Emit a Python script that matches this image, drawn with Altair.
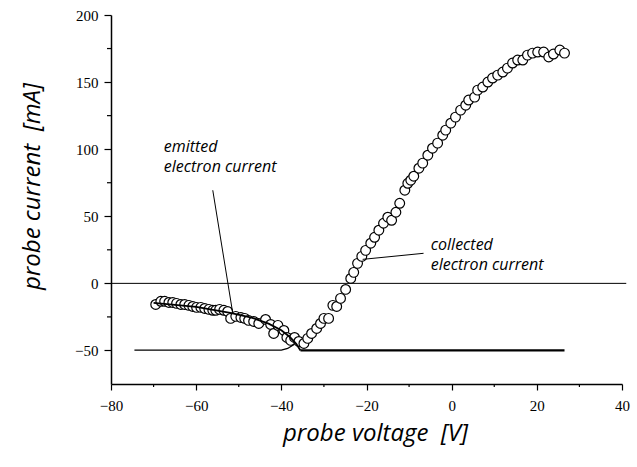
import altair as alt
import pandas as pd

# measured probe characteristic
voltage = [-69.5, -68.3, -67.4, -66.4, -65.5, -64.6, -63.6, -62.7, -61.7, -60.8,
           -59.9, -58.9, -58.0, -57.0, -56.1, -55.4, -54.5, -53.5, -52.6, -51.9,
           -50.7, -49.5, -48.6, -47.7, -46.5, -45.3, -43.7, -42.5, -41.8, -40.8,
           -39.4, -38.7, -37.8, -36.9, -35.9, -34.7, -33.8, -32.9, -31.7, -30.8,
           -30.0, -28.9, -27.9, -27.0, -26.1, -24.9, -23.7, -23.0, -22.1, -21.1,
           -20.2, -19.0, -18.1, -17.1, -16.0, -15.0, -14.1, -13.1, -12.2, -11.0,
           -10.3, -9.6, -8.9, -7.7, -6.8, -5.6, -4.5, -3.3, -2.1, -1.4,
           -0.2, 0.9, 2.1, 3.3, 4.0, 5.4, 6.1, 7.3, 8.5, 9.6,
           10.8, 12.0, 13.1, 14.3, 15.5, 16.7, 17.8, 19.0, 20.2, 21.6,
           22.8, 23.9, 25.4, 26.5]
current = [-15.7, -13.4, -13.4, -14.2, -14.2, -14.9, -15.7, -15.7, -16.4, -17.2,
           -17.9, -17.9, -18.7, -19.4, -20.1, -20.1, -19.4, -20.1, -20.9, -26.1,
           -24.6, -25.4, -26.1, -27.6, -28.4, -29.9, -26.9, -30.6, -37.3, -31.3,
           -35.1, -40.3, -42.5, -40.3, -43.3, -44.8, -41.0, -37.3, -33.6, -29.9,
           -26.1, -26.1, -16.4, -17.2, -11.2, -4.5, 3.7, 8.2, 14.9, 20.1,
           24.6, 29.9, 34.3, 39.6, 44.8, 49.3, 47.0, 53.0, 59.7, 69.4,
           74.6, 76.9, 79.9, 85.8, 89.6, 95.5, 100.7, 104.5, 110.4, 114.2,
           119.4, 123.9, 129.1, 132.8, 136.6, 138.8, 144.0, 146.3, 150.0, 153.0,
           155.2, 157.5, 160.4, 164.2, 166.4, 166.4, 170.1, 171.6, 172.4, 172.4,
           168.7, 170.9, 173.9, 171.6]

# emitted electron current fit
fit_voltage = [-70, -60, -52, -47, -43, -40, -38, -36.5, -35.5]
fit_current = [-14.5, -17.5, -22, -25.5, -30, -35, -40, -45, -50]

# base lines
base_left_voltage = [-74.5, -40, -38.5, -37]
base_left_current = [-49.7, -49.7, -48.5, -45.5]
base_right_voltage = [-35.5, 26.5]
base_right_current = [-50, -50]
zero_voltage = [-80, 41]
zero_current = [0, 0]

# annotations (two-line labels)
ann_text = ["emitted\nelectron current", "collected\nelectron current"]
ann_voltage = [-67.6, -4.9]
ann_current = [107.5, 34.5]
ptr1_voltage = [-56.1, -51.4]
ptr1_current = [69.4, -22.4]
ptr2_voltage = [-6.6, -20.9]
ptr2_current = [22.4, 17.9]

# ticks
x_major = [-80, -60, -40, -20, 0, 20, 40]
x_minor = [-70, -50, -30, -10, 10, 30]
y_major = [-50, 0, 50, 100, 150, 200]
y_minor = [-25, 25, 75, 125, 175]

xs = alt.Scale(domain=[-80, 40], nice=False, zero=False)
ys = alt.Scale(domain=[-75, 200], nice=False, zero=False)

axis_common = dict(
    domainColor="black", domainWidth=1.5, tickColor="black", tickWidth=1.2,
    grid=False, labelFont="Liberation Serif", labelFontSize=15, labelColor="black",
    titleFont="Open Sans", titleFontStyle="italic", titleFontWeight="normal",
    titleFontSize=24, titleColor="black", labelFlush=False, labelOverlap=False,
)

x_axis = alt.Axis(
    title="probe voltage\u00a0\u00a0[V]", values=x_major, tickSize=6, labelPadding=8,
    titleX=264, titleY=49, titleAlign="center", titleBaseline="middle",
    **axis_common,
)
y_axis = alt.Axis(
    title="probe current\u00a0\u00a0[mA]", values=y_major, tickSize=7, labelPadding=6,
    titleX=-79, titleY=171, titleAngle=270, titleAlign="center", titleBaseline="middle",
    **axis_common,
)

pts = pd.DataFrame({"v": voltage, "i": current})
points = alt.Chart(pts).mark_point(
    shape="circle", filled=True, fill="white", stroke="black",
    strokeWidth=1.2, size=95, opacity=1
).encode(
    x=alt.X("v:Q", scale=xs, axis=x_axis),
    y=alt.Y("i:Q", scale=ys, axis=y_axis),
)


def line(vs, cs, width):
    df = pd.DataFrame({"v": vs, "i": cs, "o": list(range(len(vs)))})
    return alt.Chart(df).mark_line(color="black", strokeWidth=width).encode(
        x=alt.X("v:Q", scale=xs),
        y=alt.Y("i:Q", scale=ys),
        order="o:Q",
    )


fit = line(fit_voltage, fit_current, 1.8)
base_l = line(base_left_voltage, base_left_current, 1.3)
base_r = line(base_right_voltage, base_right_current, 2.2)
zero = line(zero_voltage, zero_current, 1.0)
p1 = line(ptr1_voltage, ptr1_current, 1.0)
p2 = line(ptr2_voltage, ptr2_current, 1.0)

ann = alt.Chart(pd.DataFrame({"t": ann_text, "v": ann_voltage, "i": ann_current})).mark_text(
    font="Open Sans", fontStyle="italic", fontSize=16, align="left",
    baseline="top", color="black", lineBreak="\n", lineHeight=20
).encode(
    x=alt.X("v:Q", scale=xs),
    y=alt.Y("i:Q", scale=ys),
    text="t:N",
)

# minor ticks drawn as short rules on the axes
xminor = alt.Chart(pd.DataFrame({"v": x_minor})).mark_rule(color="black", strokeWidth=1.2).encode(
    x=alt.X("v:Q", scale=xs), y=alt.value(369), y2=alt.value(372)
)
yminor = alt.Chart(pd.DataFrame({"i": y_minor})).mark_rule(color="black", strokeWidth=1.2).encode(
    y=alt.Y("i:Q", scale=ys), x=alt.value(-4), x2=alt.value(0)
)

chart = alt.layer(points, zero, fit, base_l, base_r, p1, p2, ann, xminor, yminor).properties(
    width=511, height=369,
    autosize=alt.AutoSizeParams(type="none"),
    padding={"left": 111, "top": 15, "right": 15, "bottom": 83},
    background="white",
).configure_view(stroke=None).configure_axis(labelFont="Liberation Serif")

chart.save("out.html", embed_options={"renderer": "svg", "actions": False})
